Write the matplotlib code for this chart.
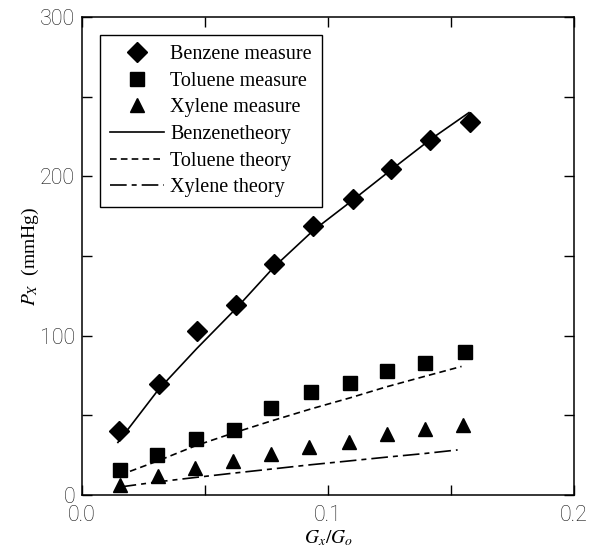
import numpy as np
import matplotlib
matplotlib.use("Agg")
import matplotlib.pyplot as plt

plt.rcParams.update({
    "font.family": "Liberation Serif", "mathtext.fontset": "stix",
    "xtick.direction": "in", "ytick.direction": "in",
    "axes.linewidth": 1.1,
})

# measured points
x_benz = [0.0149, 0.0312, 0.0467, 0.0626, 0.0782, 0.0939, 0.1100, 0.1256, 0.1415, 0.1577]
y_benz = [40.3, 69.8, 102.7, 119.5, 145.0, 168.6, 185.5, 204.4, 222.6, 234.0]
x_tol = [0.0154, 0.0306, 0.0463, 0.0617, 0.0770, 0.0930, 0.1090, 0.1240, 0.1394, 0.1557]
y_tol = [15.7, 25.0, 35.0, 40.9, 54.9, 64.5, 70.2, 78.0, 82.6, 89.5]
x_xyl = [0.0155, 0.0309, 0.0460, 0.0614, 0.0768, 0.0924, 0.1085, 0.1238, 0.1395, 0.1548]
y_xyl = [6.3, 12.0, 17.2, 21.6, 25.6, 30.4, 33.1, 38.4, 41.3, 44.2]

# theory curves
xt_benz = [0.0146, 0.0310, 0.0467, 0.0626, 0.0780, 0.0940, 0.1100, 0.1256, 0.1415, 0.1573]
yt_benz = [33.0, 66.0, 92.0, 117.0, 143.0, 166.0, 185.0, 204.0, 223.0, 240.0]
xt_tol = [0.0154, 0.0310, 0.0463, 0.0617, 0.0770, 0.0930, 0.1090, 0.1240, 0.1394, 0.1543]
yt_tol = [12.5, 21.5, 31.0, 39.0, 46.5, 54.0, 61.0, 68.0, 74.5, 80.7]
xt_xyl = [0.0153, 0.0310, 0.0460, 0.0620, 0.0770, 0.0930, 0.1080, 0.1240, 0.1390, 0.1527]
yt_xyl = [5.0, 8.3, 11.0, 13.8, 16.3, 19.0, 21.3, 23.8, 26.0, 28.3]

fig = plt.figure(figsize=(5.91, 5.51), dpi=100)
ax = fig.add_axes([0.1387, 0.1016, 0.8325, 0.8675])

ax.plot(x_benz, y_benz, "D", color="k", ms=10, ls="none", label="Benzene measure")
ax.plot(x_tol, y_tol, "s", color="k", ms=9.5, ls="none", label="Toluene measure")
ax.plot(x_xyl, y_xyl, "^", color="k", ms=10, ls="none", label="Xylene measure")
ax.plot(xt_benz, yt_benz, "-", color="k", lw=1.2, label="Benzenetheory")
ax.plot(xt_tol, yt_tol, color="k", lw=1.2, ls=(0, (4, 2.5)), label="Toluene theory")
ax.plot(xt_xyl, yt_xyl, color="k", lw=1.2, ls=(0, (10, 3, 3, 3)), label="Xylene theory")

ax.set_xlim(0, 0.2)
ax.set_ylim(0, 300)
ax.set_xticks([0, 0.05, 0.1, 0.15, 0.2], labels=["0.0", "", "0.1", "", "0.2"])
ax.set_yticks([0, 50, 100, 150, 200, 250, 300], labels=["0", "", "100", "", "200", "", "300"])
ax.tick_params(top=True, right=True, length=7, width=1.0, labelsize=15.5,
               labelcolor="#1a1a1a")
ax.tick_params(axis="x", pad=7)
ax.tick_params(axis="y", pad=5)
for lab in ax.get_xticklabels() + ax.get_yticklabels():
    lab.set_fontfamily("Roboto")
    lab.set_fontweight("light")

ax.set_xlabel(r"$G_x/G_o$", fontsize=14)
ax.xaxis.set_label_coords(0.5, -0.07)
ax.set_ylabel(r"$P_X$  (mmHg)", fontsize=14)
ax.yaxis.set_label_coords(-0.083, 0.5)

leg = ax.legend(loc="upper left", bbox_to_anchor=(0.036, 0.962), fontsize=14.5,
                frameon=True, fancybox=False, edgecolor="k", framealpha=1,
                handlelength=2.7, handletextpad=0.3, borderpad=0.5,
                labelspacing=0.37, borderaxespad=0)
leg.get_frame().set_linewidth(1.0)

fig.savefig("out.png", dpi=100)
